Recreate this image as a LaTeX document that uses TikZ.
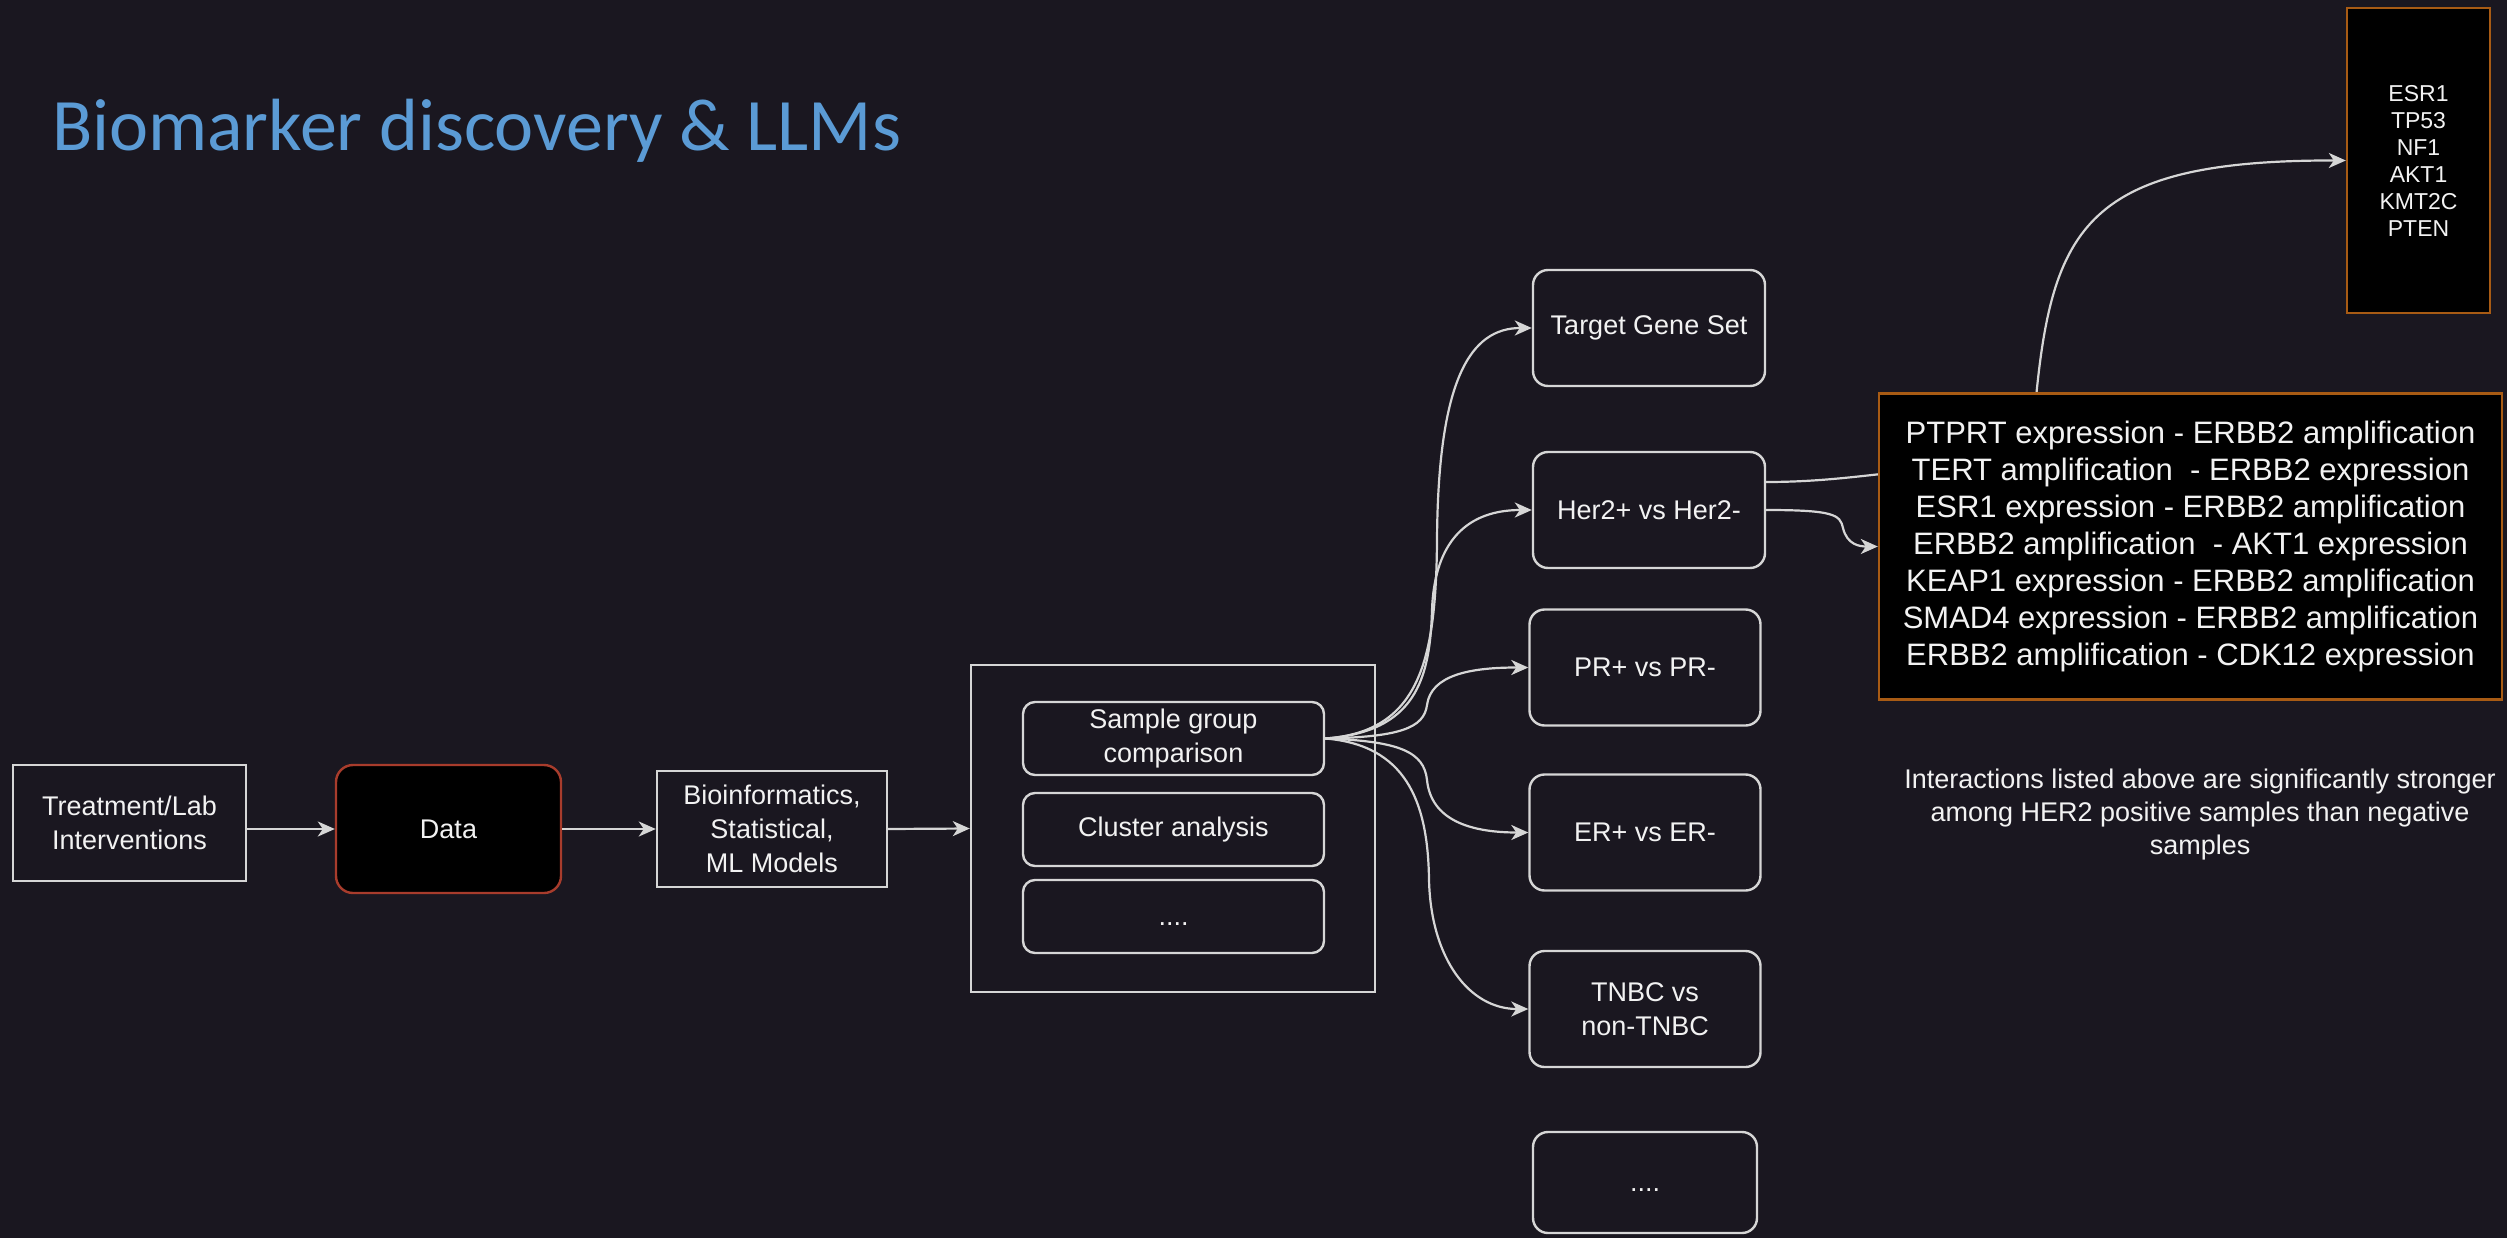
\documentclass[tikz,border=0pt]{standalone}
\usepackage{fontspec}
\setmainfont{Liberation Sans}
\newfontfamily\titlefont{Carlito}
\usetikzlibrary{arrows.meta,calc}
\definecolor{bgC}{HTML}{1A1720}
\definecolor{lineC}{HTML}{D6D6D6}
\definecolor{txtC}{HTML}{F2F2F2}
\definecolor{titleC}{HTML}{5B9BD5}
\definecolor{redC}{HTML}{A83C2C}
\definecolor{orangeC}{HTML}{A85B14}
% dots placeholder, sitting a little below the box centre
\newcommand{\moredots}{\raisebox{-9pt}[0pt][0pt]{....}}
\begin{document}
\begin{tikzpicture}[x=1pt,y=-1pt,
  box/.style={draw=lineC, line width=2.4pt, text=txtC, align=center, inner sep=0pt,
              font=\fontsize{27}{34}\selectfont},
  rbox/.style={box, rounded corners=15pt},
  darkbox/.style={box, fill=black, draw=orangeC},
  conn/.style={draw=lineC, line width=2.2pt},
  arr/.style={conn, -{Stealth[length=17pt,width=15pt,inset=5pt]}}]

% canvas
\fill[bgC] (0,0) rectangle (2507,1238);
\useasboundingbox (0,0) rectangle (2507,1238);

% title
\node[anchor=base west, inner sep=0pt, text=titleC, font=\titlefont\fontsize{74}{80}\selectfont]
  (title) at (52,151) {Biomarker discovery \& LLMs};

% pipeline
\node[box, minimum width=233pt, minimum height=116pt] (treat) at (129.5,823) {Treatment/Lab\\Interventions};
\node[box, fill=black, draw=redC, rounded corners=17pt, minimum width=225pt, minimum height=128pt] (data) at (448.5,829) {Data};
\node[box, minimum width=230pt, minimum height=116pt] (bio) at (772,829) {Bioinformatics,\\Statistical,\\ML Models};

% analysis container
\node[box, minimum width=404pt, minimum height=327pt] (cont) at (1173,828.5) {};
\node[rbox, rounded corners=12pt, minimum width=301pt, minimum height=73pt] (sgc) at (1173.5,738.5) {Sample group\\comparison};
\node[rbox, rounded corners=12pt, minimum width=301pt, minimum height=73pt] (clu) at (1173.5,829.5) {Cluster analysis};
\node[rbox, rounded corners=12pt, minimum width=301pt, minimum height=73pt] (more1) at (1173.5,916.5) {\moredots};

% comparison groups
\node[rbox, minimum width=232pt, minimum height=116pt] (tgs) at (1649,328) {Target Gene Set};
\node[rbox, minimum width=232pt, minimum height=116pt] (her2) at (1649,510) {Her2+ vs Her2-};
\node[rbox, minimum width=231pt, minimum height=116pt] (pr) at (1645,667.5) {PR+ vs PR-};
\node[rbox, minimum width=231pt, minimum height=116pt] (er) at (1645,832.5) {ER+ vs ER-};
\node[rbox, minimum width=231pt, minimum height=116pt] (tnbc) at (1645,1009) {TNBC vs\\non-TNBC};
\node[rbox, minimum width=224pt, minimum height=101pt] (more2) at (1645,1182.5) {\moredots};

% gene list
\node[darkbox, minimum width=143pt, minimum height=305pt, font=\fontsize{23}{27}\selectfont]
  (genes) at (2418.5,160.5) {ESR1\\TP53\\NF1\\AKT1\\KMT2C\\PTEN};

% straight flow
\draw[arr] (treat.east |- data.west) -- (data.west);
\draw[arr] (data.east) -- (bio.west);
\draw[arr] (bio.east) -- (cont.west);

% fan-out from sample group comparison
\draw[arr] (sgc.east) .. controls (1420,732) and (1436,660) .. (1437,540)
  .. controls (1438,380) and (1470,328) .. (tgs.west);
\draw[arr] (sgc.east) .. controls (1415,732) and (1430,680) .. (1432,610)
  .. controls (1434,550) and (1460,510) .. (her2.west);
\draw[arr] (sgc.east) .. controls (1400,737) and (1424,728) .. (1427,705)
  .. controls (1431,675) and (1470,667.5) .. (pr.west);
\draw[arr] (sgc.east) .. controls (1400,741) and (1424,752) .. (1427,780)
  .. controls (1431,820) and (1470,832.5) .. (er.west);
\draw[arr] (sgc.east) .. controls (1405,745) and (1428,800) .. (1429,880)
  .. controls (1431,960) and (1470,1009) .. (tnbc.west);

% Her2 to gene list, running behind the interaction box
\draw[arr] ($(her2.east)+(0,-28)$) .. controls (1820,482) and (1860,476) .. (1900,472)
  .. controls (2000,462) and (2034,450) .. (2034,420)
  .. controls (2050,230) and (2080,160) .. (genes.west);

% interaction list
\node[darkbox, minimum width=623pt, minimum height=306pt, font=\fontsize{31}{37}\selectfont]
  (inter) at (2190.5,546.5) {PTPRT expression - ERBB2 amplification\\
  TERT amplification\ \ - ERBB2 expression\\
  ESR1 expression - ERBB2 amplification\\
  ERBB2 amplification\ \ - AKT1 expression\\
  KEAP1 expression - ERBB2 amplification\\
  SMAD4 expression - ERBB2 amplification\\
  ERBB2 amplification - CDK12 expression};

\draw[arr] (her2.east) .. controls (1835,510) and (1840,515) .. (1843,528)
  .. controls (1847,545) and (1860,546.5) .. (inter.west);

% note
\node[text=txtC, align=center, inner sep=0pt, font=\fontsize{27}{33}\selectfont]
  (note) at (2200,815) {Interactions listed above are significantly stronger\\
  among HER2 positive samples than negative\\samples};
\end{tikzpicture}
\end{document}
